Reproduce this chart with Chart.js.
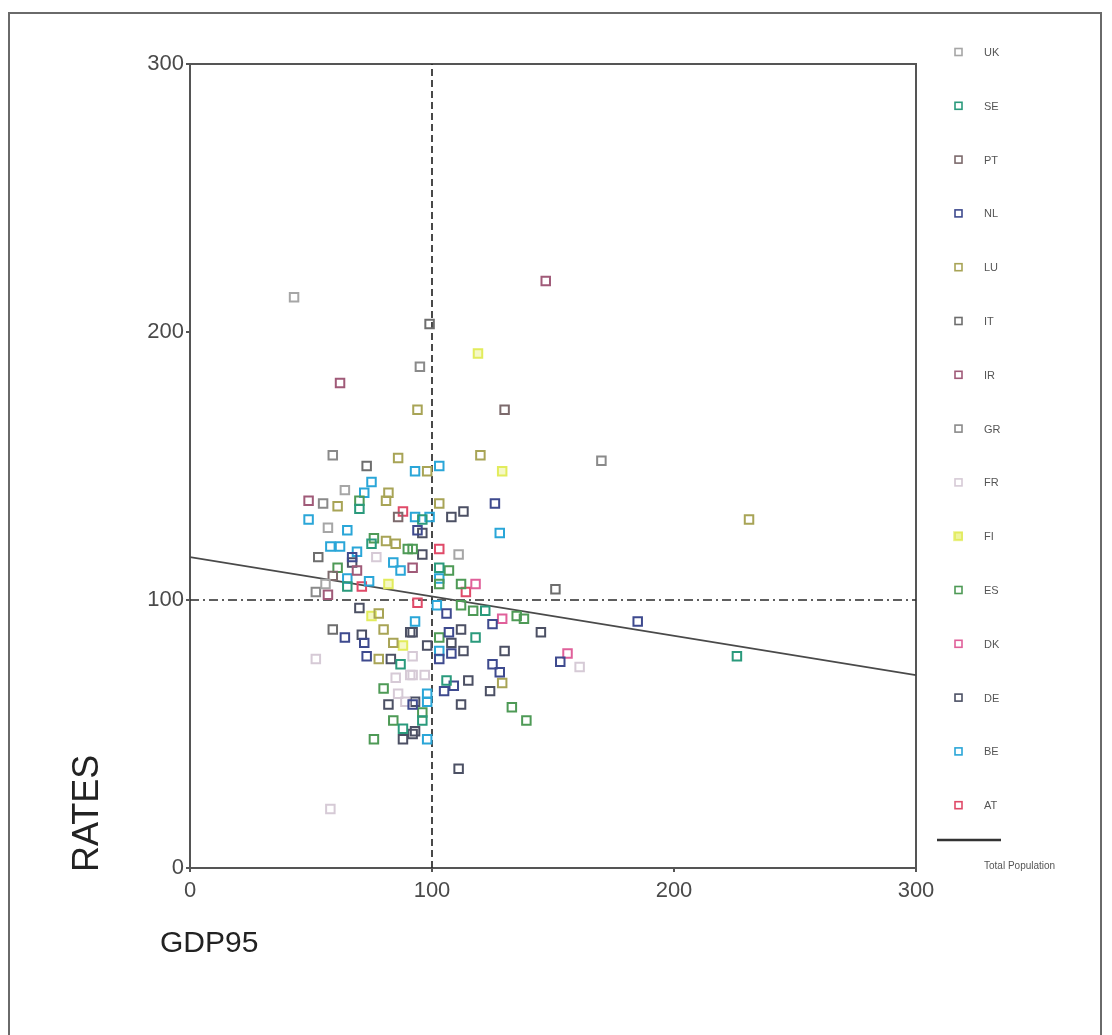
<!DOCTYPE html>
<html>
<head>
<meta charset="utf-8">
<script src="https://cdn.jsdelivr.net/npm/chart.js@4/dist/chart.umd.min.js"></script>
<style>
  html, body { margin:0; padding:0; background:#fff; overflow:hidden; }
  #frame { position:absolute; left:8px; top:12px; width:1094px; height:1040px; border:2px solid #6a6a6a; box-sizing:border-box; }
  #wrap { position:absolute; left:0; top:0; width:1112px; height:1035px; }
</style>
</head>
<body>
<div id="frame"></div>
<div id="wrap"><canvas id="c"></canvas></div>
<script>
// ---- Data (GDP95, RATES) per country ----
const countries = ["UK","SE","PT","NL","LU","IT","IR","GR","FR","FI","ES","DK","DE","BE","AT"];
const colors = {
  UK:"#a6a6a6", SE:"#2a9a7c", PT:"#7c6a6c", NL:"#3e4a8e", LU:"#a8a456",
  IT:"#6e6e6e", IR:"#a05a78", GR:"#8a8a8a", FR:"#d6cad6", FI:"#e2ec5c",
  ES:"#4e9a56", DK:"#e0609a", DE:"#4c5064", BE:"#2aa6d8", AT:"#e04a68"
};
const ptsUK = [[43,213],[64,141],[57,127],[111,117],[56,106]];
const ptsSE = [[70,134],[75,121],[65,105],[96,130],[103,112],[122,96],[118,86],[87,76],[88,52],[106,70],[96,55],[226,79]];
const ptsPT = [[130,171],[86,131],[59,109]];
const ptsNL = [[67,116],[94,126],[126,136],[64,86],[72,84],[73,79],[92,61],[106,95],[125,91],[107,88],[108,80],[103,78],[125,76],[128,73],[109,68],[105,66],[153,77],[185,92]];
const ptsLU = [[86,153],[82,140],[81,137],[61,135],[81,122],[85,121],[120,154],[98,148],[103,136],[94,171],[231,130],[78,95],[80,89],[84,84],[78,78],[129,69]];
const ptsIT = [[73,150],[99,203],[59,89],[151,104],[53,116]];
const ptsIR = [[49,137],[69,111],[57,102],[92,112],[62,181],[147,219]];
const ptsGR = [[59,154],[55,136],[95,187],[170,152],[52,103]];
const ptsFR = [[77,116],[52,78],[85,71],[91,72],[86,65],[89,62],[92,79],[92,72],[97,72],[161,75],[58,22]];
const ptsFI = [[129,148],[119,192],[75,94],[88,83],[82,106]];
const ptsES = [[70,137],[76,123],[90,119],[61,112],[92,119],[107,111],[112,106],[112,98],[117,96],[135,94],[138,93],[103,86],[80,67],[84,55],[76,48],[133,60],[96,58],[139,55],[103,106]];
const ptsDK = [[118,106],[129,93],[156,80]];
const ptsDE = [[67,114],[113,133],[108,131],[96,125],[96,117],[70,97],[71,87],[91,88],[83,78],[82,61],[88,48],[92,50],[112,89],[92,88],[98,83],[108,84],[113,81],[130,81],[115,70],[124,66],[93,62],[112,61],[93,51],[145,88],[111,37]];
const ptsBE = [[93,148],[75,144],[72,140],[49,130],[65,126],[58,120],[62,120],[69,118],[84,114],[65,108],[74,107],[103,150],[128,125],[93,131],[99,131],[103,108],[102,98],[93,92],[103,81],[98,65],[98,62],[98,48],[87,111]];
const ptsAT = [[88,133],[71,105],[103,119],[114,103],[94,99]];
const fitLine = [[0,116],[300,72]];   // Total Population fit line
const refX = 100, refY = 100;          // reference lines
const axisMax = 300, tickStep = 100;

const byCountry = {UK:ptsUK,SE:ptsSE,PT:ptsPT,NL:ptsNL,LU:ptsLU,IT:ptsIT,IR:ptsIR,GR:ptsGR,FR:ptsFR,FI:ptsFI,ES:ptsES,DK:ptsDK,DE:ptsDE,BE:ptsBE,AT:ptsAT};

const datasets = [];
datasets.push({type:'line', label:'refX', data:[{x:refX,y:0},{x:refX,y:axisMax}], borderColor:'#2a2a2a', borderWidth:1.7, borderDash:[7,4], pointRadius:0, order:3});
datasets.push({type:'line', label:'refY', data:[{x:0,y:refY},{x:axisMax,y:refY}], borderColor:'#2a2a2a', borderWidth:1.7, borderDash:[9,4,2,4], pointRadius:0, order:3});
datasets.push({type:'line', label:'Total Population', data:fitLine.map(p=>({x:p[0],y:p[1]})), borderColor:'#4a4a4a', borderWidth:1.8, pointRadius:0, order:2});
countries.forEach(c=>{
  datasets.push({
    type:'scatter', label:c,
    data: byCountry[c].map(p=>({x:p[0], y:p[1]})),
    pointStyle:'rect', pointRadius:6, pointHoverRadius:6,
    borderColor: colors[c], backgroundColor: c==='FI' ? 'rgba(226,236,92,0.35)' : 'rgba(0,0,0,0)',
    borderWidth: 2, order:1
  });
});

const framePlugin = {
  id:'framePlugin',
  beforeDatasetsDraw(chart){
    const a = chart.chartArea, ctx = chart.ctx;
    ctx.save();
    ctx.strokeStyle = '#555'; ctx.lineWidth = 2;
    ctx.strokeRect(a.left, a.top, a.right - a.left, a.bottom - a.top);
    ctx.restore();
  },
  afterDraw(chart){
    const ctx = chart.ctx;
    ctx.save();
    // axis titles
    ctx.fillStyle = '#222';
    ctx.font = '30px "Liberation Sans", Arial, sans-serif';
    ctx.textBaseline = 'alphabetic'; ctx.textAlign = 'left';
    ctx.fillText('GDP95', 160, 952);
    ctx.save();
    ctx.translate(98, 872);
    ctx.rotate(-Math.PI/2);
    ctx.font = '36px "Liberation Sans", Arial, sans-serif';
    ctx.fillText('RATES', 0, 0);
    ctx.restore();
    // legend
    const y0 = 52, step = 53.8;
    countries.forEach((c,i)=>{
      const y = y0 + i*step;
      if (c === 'FI') {
        ctx.fillStyle = 'rgba(226,236,92,0.6)';
        ctx.fillRect(953, y-5, 10, 10);
      }
      ctx.strokeStyle = colors[c]; ctx.lineWidth = 1.6;
      ctx.strokeRect(955, y-3.5, 7, 7);
      ctx.fillStyle = '#555';
      ctx.font = '11px "Liberation Sans", Arial, sans-serif';
      ctx.textBaseline = 'middle'; ctx.textAlign = 'left';
      ctx.fillText(c, 984, y+1);
    });
    ctx.strokeStyle = '#333'; ctx.lineWidth = 2.5;
    ctx.beginPath(); ctx.moveTo(937, 840); ctx.lineTo(1001, 840); ctx.stroke();
    ctx.fillStyle = '#555';
    ctx.font = '10px "Liberation Sans", Arial, sans-serif';
    ctx.textBaseline = 'middle';
    ctx.fillText('Total Population', 984, 866);
    ctx.restore();
  }
};

const tickFont = {family:'"Liberation Sans", Arial, sans-serif', size:22};
new Chart(document.getElementById('c'), {
  type:'scatter',
  data:{datasets},
  options:{
    responsive:true, maintainAspectRatio:false, animation:false,
    layout:{padding:{left:130, right:196, top:64, bottom:127}},
    plugins:{legend:{display:false}, tooltip:{enabled:false}},
    scales:{
      x:{type:'linear', min:0, max:axisMax,
         ticks:{stepSize:tickStep, font:tickFont, color:'#4a4a4a', padding:6},
         grid:{drawOnChartArea:false, drawTicks:true, tickLength:4, color:'#555', lineWidth:2},
         border:{display:true, color:'#555', width:2},
         afterFit(s){ s.height = 40; }},
      y:{type:'linear', min:0, max:axisMax,
         ticks:{stepSize:tickStep, font:tickFont, color:'#4a4a4a', padding:2},
         grid:{drawOnChartArea:false, drawTicks:true, tickLength:4, color:'#555', lineWidth:2},
         border:{display:true, color:'#555', width:2},
         afterFit(s){ s.width = 60; }}
    }
  },
  plugins:[framePlugin]
});
</script>
</body>
</html>
